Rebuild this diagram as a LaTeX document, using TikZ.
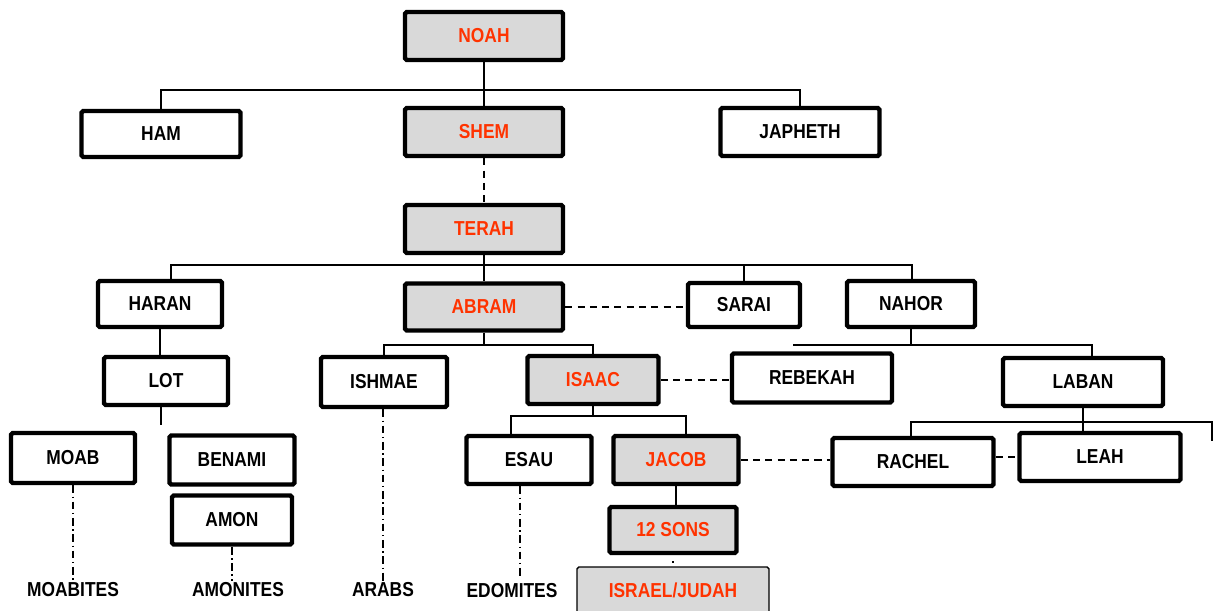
\documentclass[tikz,border=0pt]{standalone}
\usepackage{fontspec}
\setmainfont{Liberation Sans}[FakeStretch=0.86]
\definecolor{kinred}{RGB}{255,51,0}
\definecolor{boxgray}{RGB}{217,217,217}

\begin{document}
\begin{tikzpicture}[x=0.02cm, y=-0.02cm]
		\tikzset{box/.style={draw=black, line width=2.5pt, rounded corners=1pt, inner sep=0pt, font=\fontsize{11.5}{13}\selectfont\bfseries},
			kin/.style={box, fill=boxgray, text=kinred},
			sz/.style 2 args={minimum width=#1*0.02cm, minimum height=#2*0.02cm},
			link/.style={line width=0.8pt},
			wed/.style={link, dash pattern=on 4pt off 3pt},
			tribe/.style={link, dash pattern=on 4.5pt off 2pt on 0.8pt off 2pt},
			folk/.style={font=\fontsize{11.5}{13}\selectfont\bfseries, inner sep=1pt}};
		\useasboundingbox (0,0) rectangle (1220,610);

		\node[kin, sz={158}{48}] (noah) at (484, 36) {NOAH};
		\node[box, sz={159}{46}] (ham) at (161, 134) {HAM};
		\node[kin, sz={158}{48}] (shem) at (484, 132) {SHEM};
		\node[box, sz={159}{48}] (japheth) at (800, 132) {JAPHETH};
		\node[kin, sz={158}{48}] (terah) at (484, 229) {TERAH};
		\node[box, sz={124}{46}] (haran) at (160, 304) {HARAN};
		\node[kin, sz={158}{47}] (abram) at (484, 307) {ABRAM};
		\node[box, sz={112}{44}] (sarai) at (744, 305) {SARAI};
		\node[box, sz={128}{46}] (nahor) at (911, 304) {NAHOR};
		\node[box, sz={124}{48}] (lot) at (166, 381) {LOT};
		\node[box, sz={126}{50}] (ishmae) at (384, 382) {ISHMAE};
		\node[kin, sz={131}{48}] (isaac) at (593, 380) {ISAAC};
		\node[box, sz={160}{49}] (rebekah) at (812, 378) {REBEKAH};
		\node[box, sz={160}{48}] (laban) at (1083, 382) {LABAN};
		\node[box, sz={124}{50}] (moab) at (73, 458) {MOAB};
		\node[box, sz={125}{49}] (benami) at (232, 460) {BENAMI};
		\node[box, sz={120}{49}] (amon) at (232, 520) {AMON};
		\node[box, sz={125}{48}] (esau) at (529, 460) {ESAU};
		\node[kin, sz={125}{48}] (jacob) at (676, 460) {JACOB};
		\node[box, sz={161}{48}] (rachel) at (913, 462) {RACHEL};
		\node[box, sz={161}{48}] (leah) at (1100, 457) {LEAH};
		\node[kin, sz={127}{46}] (sons) at (673, 530) {12 SONS};
		\node[kin, sz={192}{46}, line width=0.8pt] (israel) at (673, 590) {ISRAEL/JUDAH};

		\node[folk] (moabites) at (73, 590) {MOABITES};
		\node[folk] (amonites) at (238, 590) {AMONITES};
		\node[folk] (arabs) at (383, 590) {ARABS};
		\node[folk] (edomites) at (512, 591) {EDOMITES};

		\coordinate (nb) at (484, 90);
		\coordinate (tbl) at (171, 265);
		\coordinate (tbr) at (912, 265);
		\coordinate (ab) at (484, 345);
		\coordinate (lotend) at (161, 425);
		\coordinate (ibl) at (511, 416);
		\coordinate (ibr) at (686, 416);
		\coordinate (nbl) at (793, 345);
		\coordinate (nbr) at (1092, 345);
		\coordinate (lbl) at (911, 422);
		\coordinate (lbr) at (1212, 422);
		\coordinate (lbe) at (1212, 441);
		\coordinate (ed) at (520, 577);

		\draw[link] (noah) -- (shem);
		\draw[link] (ham.north) |- (nb) -| (japheth.north);
		\draw[wed] (shem) -- (terah);

		\draw[link] (terah) -- (abram);
		\draw[link] (tbl |- haran.north) -- (tbl) -- (tbr) -- (tbr |- nahor.north);
		\draw[link] (sarai.north) -- (sarai.north |- tbl);
		\draw[wed] (abram) -- (abram -| sarai.west);

		\draw[link] (haran.south) -- (haran.south |- lot.north);
		\draw[link] (lotend |- lot.south) -- (lotend);

		\draw[link] (abram) -- (ab);
		\draw[link] (ishmae.north) |- (ab) -| (isaac.north);
		\draw[wed] (isaac) -- (isaac -| rebekah.west);

		\draw[link] (isaac) -- (isaac |- ibl);
		\draw[link] (ibl |- esau.north) -- (ibl) -- (ibr) -- (ibr |- jacob.north);
		\draw[link] (jacob.south) -- (jacob.south |- sons.north);
		\draw[link, dash pattern=on 1pt off 20pt, dash phase=17.5pt] (sons) -- (israel);
		\draw[wed] (jacob.east) -- (jacob.east -| rachel.west);

		\draw[link] (nahor) -- (nahor |- nbl);
		\draw[link] (nbl) -- (nbr) -- (nbr |- laban.north);
		\draw[link] (laban.south) -- (laban.south |- leah.north);
		\draw[link] (lbl |- rachel.north) -- (lbl) -- (lbr) -- (lbe);
		\draw[wed] (rachel.east |- leah) -- (leah.west);

		\draw[tribe] (moab) -- (moabites);
		\draw[tribe] (amon.south) -- (amon.south |- amonites.north);
		\draw[tribe] (ishmae.south -| arabs) -- (arabs);
		\draw[tribe] (ed |- esau.south) -- (ed);


	\end{tikzpicture}
\end{document}
